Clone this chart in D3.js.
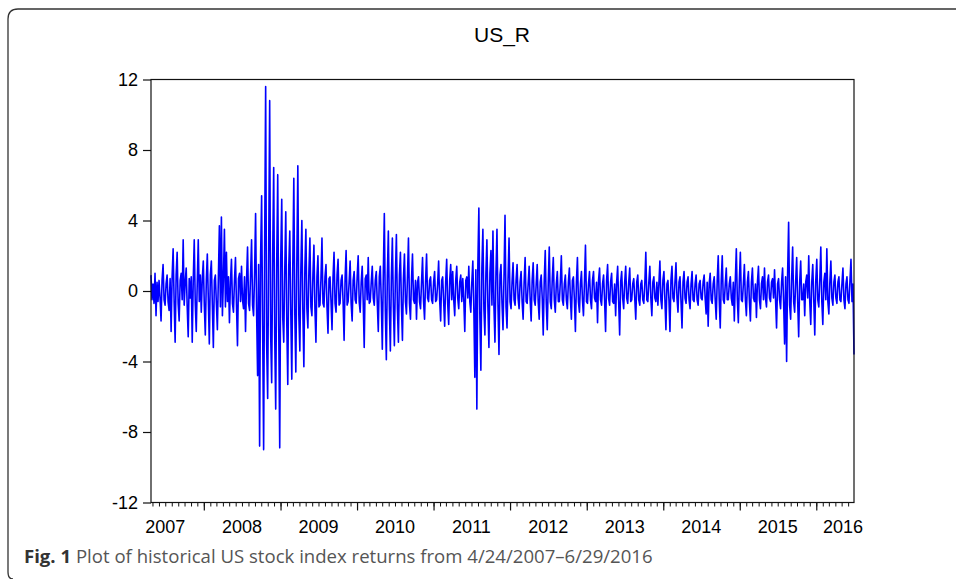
<!DOCTYPE html>
<html><head><meta charset="utf-8">
<script src="https://cdn.jsdelivr.net/npm/d3@7"></script>
<style>body{margin:0;background:#fff}svg{display:block}</style>
</head><body>
<svg id="c" width="956" height="579"></svg>
<script>
const chartTitle = "US_R";
const startDate = "2007-04-24";
const endDate = "2016-06-29";
const yTickValues = [-12, -8, -4, 0, 4, 8, 12];
const yearLabels = ["2007","2008","2009","2010","2011","2012","2013","2014","2015","2016"];
const captionBold = "Fig. 1";
const captionText = " Plot of historical US stock index returns from 4/24/2007\u20136/29/2016";
// daily returns (%), in time order
const returns = [
 0.9,-0.5,0.4,-0.7,1.0,-1.4,0.5,-0.6,0.6,-0.4,
 -1.7,0.6,1.5,-0.5,-0.8,0.4,0.9,-0.6,-1.1,0.7,
 -2.3,0.8,2.4,-0.6,-2.9,0.9,2.2,-0.7,-1.7,0.6,
 1.0,-0.5,2.9,-0.8,0.5,1.3,-0.9,-2.6,0.7,-0.4,
 0.8,-2.9,0.6,2.9,-0.7,-2.3,0.5,2.9,-0.6,0.9,
 -1.2,0.7,1.7,-0.8,-2.5,0.6,2.1,-0.5,-3.0,0.9,
 1.7,-0.8,-3.2,0.6,0.9,-0.7,-2.2,0.8,3.7,-0.9,
 4.2,-1.4,0.7,3.5,-0.9,2.2,-0.6,0.8,-1.8,0.5,
 1.8,-0.7,-1.2,0.6,1.9,-0.8,-3.1,0.7,1.0,-0.6,
 1.4,-0.5,-1.0,0.8,-2.3,0.6,2.5,-0.7,-1.1,0.9,
 2.9,-0.8,-1.4,1.0,4.4,-1.2,-4.8,1.5,-8.8,2.0,
 5.4,-2.0,-9.0,2.5,11.6,-3.0,-6.1,2.0,10.8,-2.5,
 -5.2,2.0,7.0,-2.5,-6.7,1.5,6.6,-2.0,-8.9,1.8,
 5.2,-1.5,-2.9,1.2,4.5,-1.8,-5.3,1.4,3.4,-1.2,
 -5.0,1.5,6.4,-1.3,-4.6,1.6,7.1,-1.4,-3.4,1.2,
 4.0,-1.2,-4.3,1.3,3.5,-1.0,-2.1,1.1,3.0,-0.9,
 -1.4,0.9,2.6,-1.0,-2.9,0.8,2.0,-0.9,-0.8,0.7,
 3.0,-0.7,-0.9,0.8,1.5,-0.9,-2.4,0.7,0.8,-0.6,
 -2.2,0.8,2.2,-0.7,-1.2,0.9,1.8,-0.8,-0.7,0.6,
 0.9,-0.6,-2.8,0.7,2.3,-0.8,-0.6,0.5,1.7,-0.7,
 -1.7,0.6,1.1,-0.5,-0.7,0.8,2.0,-0.6,-1.2,0.5,
 1.4,-0.6,-3.2,0.7,0.9,-0.5,1.9,-0.7,-0.6,0.5,
 1.4,-0.4,-0.8,0.6,1.1,-0.7,-2.3,0.8,1.4,-0.6,
 -3.3,1.0,4.4,-1.1,-3.9,0.9,3.4,-1.0,-3.4,0.8,
 3.0,-0.9,-3.1,0.8,3.2,-1.0,-2.9,0.9,2.2,-0.8,
 -2.8,0.7,2.1,-0.6,-1.3,0.8,3.0,-0.7,-1.6,0.6,
 2.1,-0.5,-0.7,0.6,-1.6,0.5,0.8,-0.6,-1.0,0.5,
 1.9,-0.6,-1.6,0.5,2.1,-0.4,-0.6,0.6,0.8,-0.5,
 -0.7,0.5,1.1,-0.6,-0.5,0.4,1.7,-0.5,-1.7,0.6,
 0.8,-0.6,-2.0,0.5,1.8,-0.7,-1.9,0.6,1.5,-0.5,
 1.1,-0.5,-1.4,0.6,1.4,-0.4,-1.0,0.5,0.9,-0.6,
 0.7,-0.5,-2.3,0.6,0.8,-0.4,1.4,-0.6,-1.2,0.5,
 1.7,-1.0,-4.9,1.2,-6.7,1.5,4.7,-1.5,-4.5,1.3,
 3.5,-1.0,-2.5,1.0,2.9,-0.9,-3.2,1.0,2.3,-0.8,
 3.4,-0.9,-2.9,1.0,3.5,-0.8,-3.6,0.9,1.5,-0.7,
 -2.2,0.8,4.3,-0.9,-2.1,0.7,3.0,-0.6,-1.0,0.5,
 1.6,-0.5,-0.8,0.6,1.5,-0.4,-1.0,0.5,1.1,-0.6,
 -1.6,0.5,1.9,-0.6,-0.7,0.4,1.4,-0.5,-1.7,0.6,
 1.6,-0.5,-0.8,0.4,1.5,-0.6,-1.6,0.5,0.9,-0.4,
 -2.5,0.6,2.3,-0.7,-2.2,0.5,2.5,-0.6,-1.0,0.7,
 1.9,-0.5,-1.2,0.4,1.1,-0.6,-0.6,0.5,2.0,-0.5,
 -0.8,0.4,0.9,-0.5,-1.0,0.5,1.3,-0.4,-1.6,0.6,
 0.8,-0.5,-2.3,0.5,1.9,-0.6,-1.2,0.4,1.1,-0.5,
 -1.4,0.5,2.6,-0.6,-0.7,0.4,1.1,-0.5,-1.0,0.6,
 1.1,-0.4,-0.6,0.5,-1.8,0.6,1.3,-0.5,-0.8,0.4,
 0.9,-0.5,-2.3,0.6,1.5,-0.4,-0.8,0.5,1.0,-0.6,
 -0.7,0.4,-1.4,0.5,1.4,-0.6,-2.5,0.5,1.1,-0.4,
 -1.0,0.5,1.4,-0.4,-0.7,0.5,1.3,-0.6,-0.5,0.4,
 0.7,-0.4,-1.6,0.5,0.9,-0.5,-0.8,0.4,0.6,-0.5,
 -0.7,0.4,2.2,-0.5,-0.6,0.5,1.4,-0.4,-1.4,0.5,
 0.8,-0.4,-0.6,0.5,-0.8,0.4,1.7,-0.5,-1.0,0.6,
 1.1,-0.5,-2.2,0.4,0.6,-0.5,-2.3,0.6,1.4,-0.4,
 -0.6,0.5,1.6,-0.4,-1.2,0.5,0.8,-0.6,-2.1,0.5,
 1.1,-0.4,-0.7,0.5,0.8,-0.5,-1.0,0.4,1.1,-0.5,
 -0.6,0.4,0.9,-0.5,-0.8,0.4,0.6,-0.4,-0.5,0.5,
 0.9,-0.4,-1.3,0.5,-2.0,0.4,1.0,-0.5,-0.7,0.4,
 0.8,-0.5,-1.6,0.6,2.0,-0.5,-2.1,0.6,2.0,-0.5,
 -0.7,0.4,1.3,-0.5,-0.5,0.4,0.8,-0.4,-0.8,0.5,
 -1.7,0.6,2.4,-0.5,-1.8,0.6,2.2,-0.5,-0.6,0.4,
 1.5,-0.5,-1.4,0.5,1.1,-0.6,-1.7,0.5,1.3,-0.4,
 -0.6,0.4,-1.5,0.5,1.4,-0.5,-1.0,0.4,0.8,-0.5,
 1.3,-0.4,-0.9,0.5,0.9,-0.4,-0.6,0.5,0.7,-0.4,
 1.2,-0.5,-2.1,0.4,0.7,-0.5,-1.0,0.5,1.3,-0.6,
 -3.0,0.8,-4.0,1.0,3.9,-0.8,-1.6,0.7,2.5,-0.6,
 -1.2,0.5,1.9,-0.6,-2.6,0.5,1.7,-0.5,-0.5,0.4,
 -1.4,0.5,0.9,-0.4,2.0,-0.6,-1.9,0.5,1.5,-0.5,
 -2.5,0.6,1.8,-0.5,-0.9,0.6,2.5,-0.6,-1.9,0.5,
 1.0,-0.5,2.4,-0.6,-1.3,0.5,1.7,-0.4,-0.8,0.5,
 0.9,-0.4,-0.7,0.5,0.8,-0.5,-0.6,0.4,1.3,-0.5,
 -1.0,0.4,0.8,-0.5,-0.7,0.6,1.8,-0.6,0.4,-3.6
];

const svg = d3.select("#c");
const L = 151, R = 854, T = 79.5, B = 502.5;
const font = "'Liberation Sans', Arial, sans-serif";

// outer rounded frame (clipped by image edges)
svg.append("path")
  .attr("d", "M 13 579 Q 8 579 8 572 L 8 19 Q 8 9 18 9 L 960 9")
  .attr("fill", "none").attr("stroke", "#333").attr("stroke-width", 1.3);

const parse = d3.timeParse("%Y-%m-%d");
const t0 = parse(startDate), t1 = parse(endDate);
const n = returns.length;
const dates = returns.map((_, i) => new Date(+t0 + (t1 - t0) * i / (n - 1)));

const x = d3.scaleTime().domain([t0, t1]).range([L, R]);
const y = d3.scaleLinear().domain([-12, 12]).range([B, T]);

// title
svg.append("text").attr("x", 502).attr("y", 42).attr("text-anchor", "middle")
  .attr("font-family", font).attr("font-size", 21).attr("fill", "#000").text(chartTitle);

// series
const line = d3.line().x((d, i) => x(dates[i])).y(d => y(d));
svg.append("path").datum(returns).attr("d", line)
  .attr("fill", "none").attr("stroke", "#0000ff").attr("stroke-width", 1.6)
  .attr("stroke-linejoin", "round");

// plot box
svg.append("rect").attr("x", L).attr("y", T).attr("width", R - L).attr("height", B - T)
  .attr("fill", "none").attr("stroke", "#111").attr("stroke-width", 1.2);

// y axis
const yAxis = d3.axisLeft(y).tickValues(yTickValues).tickSize(8).tickPadding(5)
  .tickSizeOuter(0).tickFormat(d => String(d));
const gy = svg.append("g").attr("transform", `translate(${L},0)`).call(yAxis);
gy.select(".domain").remove();
gy.selectAll("line").attr("stroke", "#111").attr("stroke-width", 1.2);
gy.selectAll("text").attr("font-family", font).attr("font-size", 18).attr("fill", "#000");

// x axis: monthly minor ticks, yearly major ticks
const months = d3.timeMonth.range(d3.timeMonth.ceil(t0), t1);
const gxm = svg.append("g").attr("transform", `translate(0,${B})`)
  .call(d3.axisBottom(x).tickValues(months).tickSize(4).tickFormat(""));
gxm.select(".domain").remove();
gxm.selectAll("line").attr("stroke", "#111").attr("stroke-width", 1);
const years = d3.timeYear.range(d3.timeYear.ceil(t0), t1);
const gxy = svg.append("g").attr("transform", `translate(0,${B})`)
  .call(d3.axisBottom(x).tickValues(years).tickSize(8).tickFormat(""));
gxy.select(".domain").remove();
gxy.selectAll("line").attr("stroke", "#111").attr("stroke-width", 1.2);

// year labels centred at mid-year, kept inside the frame
svg.append("g").selectAll("text").data(yearLabels).join("text")
  .attr("x", d => Math.min(x(new Date(+d, 6, 1)), R - 11))
  .attr("y", 533).attr("text-anchor", "middle")
  .attr("font-family", font).attr("font-size", 18).attr("fill", "#000")
  .text(d => d);

// caption
const cap = svg.append("text").attr("x", 24).attr("y", 563)
  .attr("font-family", "'Open Sans', 'Noto Sans', sans-serif").attr("font-size", 17);
cap.append("tspan").attr("font-weight", "bold").attr("fill", "#333").text(captionBold);
cap.append("tspan").attr("fill", "#555").text(captionText);
const target = 653 - 24;
const w = cap.node().getComputedTextLength();
cap.attr("font-size", 17 * target / w);
</script>
</body></html>
